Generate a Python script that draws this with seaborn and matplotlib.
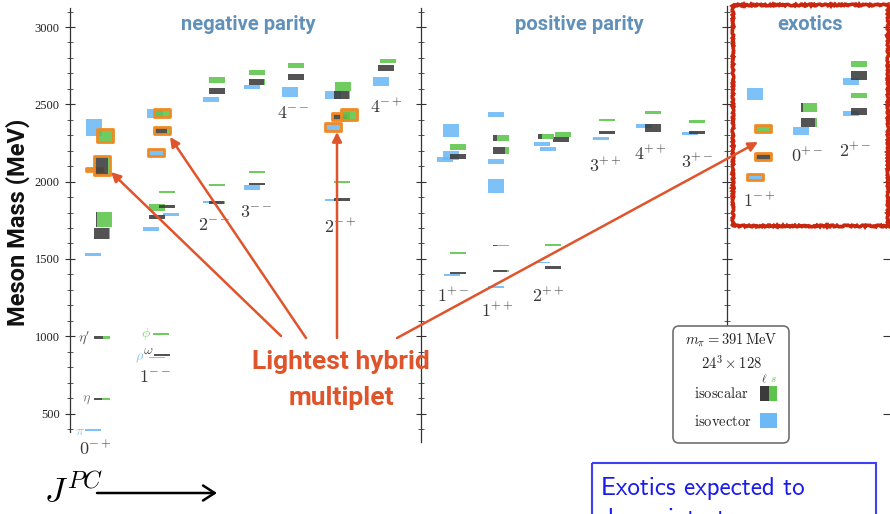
import matplotlib
matplotlib.use("Agg")
import matplotlib.pyplot as plt
import seaborn as sns
import pandas as pd
from matplotlib.patches import FancyBboxPatch, Rectangle
from matplotlib.ticker import MultipleLocator, NullFormatter

# ---------------------------------------------------------------- data
# J^PC columns and their horizontal placement (isoscalar slot centre)
columns = ["0-+", "1--", "2--", "3--", "4--", "2-+", "4-+",
           "1+-", "1++", "2++", "3++", "4++", "3+-",
           "1-+", "0+-", "2+-"]
col_pos = [102, 161, 217, 257, 296, 342, 386,
           458, 501, 552, 607, 652, 697,
           763, 809, 859]

# isovector states (MeV)
iv_col = ["0-+", "0-+", "0-+", "0-+",
          "1--", "1--", "1--", "1--", "1--",
          "2--", "2--", "3--", "3--", "4--",
          "2-+", "2-+", "2-+", "4-+",
          "1+-", "1+-", "1+-", "1+-",
          "1++", "1++", "1++", "1++",
          "2++", "2++", "2++",
          "3++", "4++", "3+-",
          "1-+", "1-+", "0+-", "2+-", "2+-"]
iv_mass = [393, 1528, 2078, 2350,
           863, 1693, 1787, 2188, 2440,
           1868, 2531, 1962, 2612, 2580,
           1881, 2353, 2560, 2647,
           1396, 2143, 2169, 2331,
           1318, 1972, 2130, 2434,
           1477, 2211, 2243,
           2279, 2360, 2311,
           2030, 2567, 2327, 2440, 2647]
iv_err = [6, 12, 10, 55,
          5, 13, 10, 23, 29,
          6, 16, 16, 13, 32,
          6, 23, 26, 29,
          5, 16, 29, 42,
          5, 45, 16, 16,
          5, 13, 13,
          10, 13, 10,
          19, 39, 26, 16, 23]
iv_hybrid = [0, 0, 1, 0,
             0, 0, 0, 1, 0,
             0, 0, 0, 0, 0,
             0, 1, 0, 0,
             0, 0, 0, 0,
             0, 0, 0, 0,
             0, 0, 0,
             0, 0, 0,
             1, 0, 0, 0, 0]
iv_shift = [-9, -9, -8.5, -8.5,
            -4.5, -10.5, 10, -5.5, -6,
            -6, -6, -5, -5, -6,
            -9, -9, -9.5, -5.5,
            -6, -13, -7, -7,
            -5.5, -5.5, -5.5, -5.5,
            -10.5, -4.5, -10.5,
            -6, -8, -7.5,
            -8, -8, -8, -8, -8]

# isoscalar states (MeV) with light-quark (ℓ) fraction; remainder is strange (s)
is_col = ["0-+", "0-+", "0-+", "0-+", "0-+", "0-+",
          "1--", "1--", "1--", "1--", "1--", "1--", "1--", "1--",
          "2--", "2--", "2--", "2--",
          "3--", "3--", "3--", "3--",
          "4--", "4--",
          "2-+", "2-+", "2-+", "2-+", "2-+", "2-+",
          "4-+", "4-+",
          "1+-", "1+-", "1+-", "1+-",
          "1++", "1++", "1++", "1++",
          "2++", "2++", "2++", "2++", "2++",
          "3++", "3++", "4++", "4++", "3+-", "3+-",
          "1-+", "1-+", "0+-", "0+-",
          "2+-", "2+-", "2+-", "2+-"]
is_mass = [594, 992, 1664, 1755, 2104, 2298,
           880, 1014, 1771, 1832, 1837, 1933, 2331, 2444,
           1865, 1978, 2586, 2657,
           1984, 2062, 2644, 2706,
           2677, 2751,
           1884, 1997, 2421, 2434, 2563, 2615,
           2735, 2780,
           1409, 1538, 2162, 2224,
           1422, 1587, 2201, 2282,
           1444, 1590, 2272, 2292, 2305,
           2318, 2398, 2347, 2447, 2318, 2389,
           2162, 2343, 2382, 2479,
           2453, 2557, 2686, 2761]
is_err = [6, 8, 36, 48, 61, 42,
          5, 5, 13, 23, 10, 6, 23, 26,
          9, 6, 19, 19,
          7, 6, 19, 16,
          19, 16,
          8, 6, 23, 35, 26, 29,
          19, 13,
          6, 5, 16, 19,
          6, 6, 23, 19,
          10, 5, 19, 16, 16,
          10, 8, 26, 10, 10, 10,
          23, 23, 29, 29,
          23, 16, 29, 19]
is_light = [0.5, 0.56, 0.95, 0.05, 0.88, 0.1,
            1.0, 0.0, 1.0, 0.0, 1.0, 0.0, 0.85, 0.12,
            0.95, 0.0, 1.0, 0.0,
            1.0, 0.0, 0.95, 0.0,
            1.0, 0.0,
            1.0, 0.0, 0.95, 0.0, 0.95, 0.0,
            1.0, 0.0,
            1.0, 0.0, 1.0, 0.0,
            0.85, 0.25, 0.75, 0.25,
            1.0, 0.0, 1.0, 0.3, 0.0,
            1.0, 0.0, 1.0, 0.0, 1.0, 0.0,
            0.95, 0.05, 0.85, 0.1,
            1.0, 0.0, 1.0, 0.0]
is_hybrid = [0, 0, 0, 0, 1, 1,
             0, 0, 0, 0, 0, 0, 1, 1,
             0, 0, 0, 0,
             0, 0, 0, 0,
             0, 0,
             0, 0, 1, 1, 0, 0,
             0, 0,
             0, 0, 0, 0,
             0, 0, 0, 0,
             0, 0, 0, 0, 0,
             0, 0, 0, 0, 0, 0,
             1, 1, 0, 0,
             0, 0, 0, 0]
is_shift = [0, 0, 0, 2, 0, 2.5,
            0.5, 0, -4.5, -4.5, 6, 5.5, 0.5, 0.5,
            0, 0, 0, 0,
            0, 0, 0, 0,
            0, 0,
            -0.5, -0.5, -2.5, 6.5, -0.5, 1,
            0, 2,
            0, 0, 0, 0,
            0, 0, 0, 0,
            0.5, 0.5, 9, -6.5, 11,
            0, 0, 0.5, 0.5, 0, 0,
            0, 0, 0, 0,
            0, 0, 0, 0]

# named ground states
named_text = [r"$\eta'$", r"$\eta$", r"$\pi$", r"$\phi$", r"$\omega$", r"$\rho$"]
named_xy = [(84, 338), (86, 399), (80, 431), (146, 334), (148, 350), (140, 358)]
named_color = ["#555555", "#7a7a7a", "#8ec5f0", "#86d27a", "#555555", "#8ec5f0"]

# position of the J^PC captions
jpc_xy = [(95, 450), (155, 377), (214, 225), (256, 212), (293, 113), (340, 228),
          (386, 108), (453, 297), (497, 312), (548, 297), (605, 167), (650, 155),
          (697, 163), (759, 202), (807, 157), (855, 152)]

# --------------------------------------------------------------- style
sns.set_theme(style="ticks")
plt.rcParams["font.family"] = ["DejaVu Sans"]
plt.rcParams["mathtext.fontset"] = "cm"

BLUE = "#6cb9f5"
GREEN = "#5cc44b"
DARK = "#3b3b3b"
ORANGE = "#f08a24"
RED = "#e0542c"
TITLE = "#6190b8"
HEAVY = ["Roboto", "DejaVu Sans"]
SERIF = ["Liberation Serif", "DejaVu Serif"]
CMSS = ["cmss10", "DejaVu Sans"]
BW = 16          # box width in px units
A = 0.88         # box opacity

W, H = 890, 514
PX = 0.1546      # pixels per MeV


def mass_at(ypx):
    return 3000 - (ypx - 27) / PX


fig = plt.figure(figsize=(W / 100, H / 100), dpi=100)
fig.patch.set_facecolor("white")


def vaxis(x_px, top_px, bot_px, zorder=0):
    a = fig.add_axes([x_px / W, 1 - bot_px / H, 1e-4, (bot_px - top_px) / H],
                     zorder=zorder)
    a.set_facecolor("none")
    a.set_ylim(mass_at(bot_px), mass_at(top_px))
    a.set_xticks([])
    for s in ("top", "right", "bottom"):
        a.spines[s].set_visible(False)
    a.spines["left"].set_color("#333333")
    a.spines["left"].set_linewidth(0.9)
    a.yaxis.set_major_locator(MultipleLocator(500))
    a.yaxis.set_minor_locator(MultipleLocator(100))
    a.tick_params(axis="y", which="major", direction="inout", length=7,
                  width=0.8, color="#333333")
    a.tick_params(axis="y", which="minor", direction="inout", length=4,
                  width=0.7, color="#555555")
    return a


# parity separators
for xs, top, bot in [(421, 8, 442), (727, 6, 330)]:
    s = vaxis(xs, top, bot)
    s.yaxis.set_major_formatter(NullFormatter())

# right-edge major ticks
r = vaxis(888, 8, 432)
r.spines["left"].set_visible(False)
r.yaxis.set_major_formatter(NullFormatter())
r.tick_params(axis="y", which="minor", length=0)

# main axes, x in px units, y in MeV
ax = fig.add_axes([70 / W, 1 - 432 / H, 820 / W, 424 / H], zorder=1)
ax.set_facecolor("none")
ax.set_xlim(70, 890)
ax.set_ylim(mass_at(432), mass_at(8))
sns.despine(ax=ax, top=True, right=True, bottom=True)
ax.set_xticks([])
ax.spines["left"].set_color("#333333")
ax.spines["left"].set_linewidth(0.9)
ax.yaxis.set_major_locator(MultipleLocator(500))
ax.yaxis.set_minor_locator(MultipleLocator(100))
ax.set_yticks(range(500, 3001, 500))
ax.tick_params(axis="y", which="major", direction="inout", length=7, width=0.8,
               color="#333333", pad=4, labelsize=9)
ax.tick_params(axis="y", which="minor", direction="inout", length=4, width=0.7,
               color="#555555")
for t in ax.get_yticklabels():
    t.set_family(SERIF)
    t.set_color("#222222")
ax.grid(False)

pos = dict(zip(columns, col_pos))
iv = pd.DataFrame(dict(col=iv_col, mass=iv_mass, err=iv_err,
                       hybrid=iv_hybrid, shift=iv_shift))
iv["x"] = iv["col"].map(pos) + iv["shift"]
isc = pd.DataFrame(dict(col=is_col, mass=is_mass, err=is_err, light=is_light,
                        hybrid=is_hybrid, shift=is_shift))
isc["x"] = isc["col"].map(pos) + isc["shift"]


def border(x, m, e):
    ax.bar(x - BW / 2, 2 * e, width=BW, bottom=m - e, align="edge",
           fill=False, edgecolor=ORANGE, linewidth=2.0, joinstyle="round",
           zorder=3)


for row in iv.itertuples():
    ax.bar(row.x - BW / 2, 2 * row.err, width=BW, bottom=row.mass - row.err,
           align="edge", color=BLUE, alpha=A, linewidth=0, zorder=2)
    if row.hybrid:
        border(row.x, row.mass, row.err)

for row in isc.itertuples():
    left = row.x - BW / 2
    if row.light > 0:
        ax.bar(left, 2 * row.err, width=BW * row.light,
               bottom=row.mass - row.err, align="edge", color=DARK, alpha=A,
               linewidth=0, zorder=3)
    if row.light < 1:
        ax.bar(left + BW * row.light, 2 * row.err, width=BW * (1 - row.light),
               bottom=row.mass - row.err, align="edge", color=GREEN, alpha=A,
               linewidth=0, zorder=3)
    if row.hybrid:
        border(row.x, row.mass, row.err)

# ------------------------------------------------------------ overlay
ov = fig.add_axes([0, 0, 1, 1], zorder=5)
ov.set_facecolor("none")
ov.set_xlim(0, W)
ov.set_ylim(H, 0)
ov.axis("off")

ov.text(18, 222, "Meson Mass (MeV)", rotation=90, ha="center", va="center",
        fontsize=17, fontweight="bold", family=HEAVY, color="#111111")

for txt, xc in [("negative parity", 248), ("positive parity", 579),
                ("exotics", 810)]:
    ov.text(xc, 24, txt, ha="center", va="center", fontsize=14.5,
            fontweight="bold", family=HEAVY, color=TITLE)

for c, (x, y) in zip(columns, jpc_xy):
    ov.text(x, y, f"${c[0]}^{{{c[1:]}}}$", ha="center", va="center",
            fontsize=13, color="#3a3a3a")

for txt, (x, y), c in zip(named_text, named_xy, named_color):
    ov.text(x, y, txt, ha="center", va="center", fontsize=10, color=c)

# hybrid multiplet callout
ov.text(341, 362, "Lightest hybrid", ha="center", va="center", fontsize=19,
        fontweight="bold", family=HEAVY, color=RED)
ov.text(341, 398, "multiplet", ha="center", va="center", fontsize=19,
        fontweight="bold", family=HEAVY, color=RED)
for start, tip in [((281, 336), (111, 172)), ((306, 338), (170, 137)),
                   ((337, 338), (337, 132)), ((397, 338), (758, 142))]:
    ov.annotate("", xy=tip, xytext=start,
                arrowprops=dict(arrowstyle="-|>", color=RED, lw=1.8,
                                mutation_scale=14, shrinkA=0, shrinkB=0))

# exotics frame
frame = Rectangle((733, 5), 155, 221, fill=False, edgecolor="#c8260e",
                  linewidth=2.6)
frame.set_sketch_params(scale=0.8, length=3, randomness=6)
ov.add_patch(frame)

# legend
ov.add_patch(FancyBboxPatch((673, 326), 116, 117,
                            boxstyle="round,pad=0,rounding_size=6",
                            facecolor="white", edgecolor="#707070",
                            linewidth=1.2, zorder=6))
ov.text(731, 341, r"$m_\pi = 391\,\mathrm{MeV}$", ha="center", va="center",
        fontsize=10.5, color="#222222", zorder=7)
ov.text(731, 363, r"$24^3 \times 128$", ha="center", va="center",
        fontsize=10.5, color="#222222", zorder=7)
ov.text(694, 394, r"$\mathrm{isoscalar}$", ha="left", va="center",
        fontsize=10.5, color="#222222", zorder=7)
ov.text(694, 421, r"$\mathrm{isovector}$", ha="left", va="center",
        fontsize=10.5, color="#222222", zorder=7)
ov.text(764, 379, r"$\ell$", ha="center", va="center", fontsize=8,
        color=DARK, zorder=7)
ov.text(773, 379, r"$s$", ha="center", va="center", fontsize=8,
        color=GREEN, zorder=7)
ov.add_patch(Rectangle((760, 386), 8.5, 15, facecolor=DARK, lw=0, zorder=7))
ov.add_patch(Rectangle((768.5, 386), 8.5, 15, facecolor=GREEN, lw=0, zorder=7))
ov.add_patch(Rectangle((760, 413), 17, 15, facecolor=BLUE, lw=0, zorder=7))

# J^PC axis caption
ov.text(44, 492, r"$J^{PC}$", ha="left", va="center", fontsize=25,
        color="black")
ov.annotate("", xy=(217, 493), xytext=(97, 493),
            arrowprops=dict(arrowstyle="->,head_length=0.7,head_width=0.45",
                            lw=1.8, color="black", shrinkA=0, shrinkB=0))

# note box; its second line runs past the lower edge of the figure
ov.add_patch(Rectangle((592, 463), 284, 70, fill=False, edgecolor="#3f3ff5",
                       linewidth=1.5, clip_on=False))
ov.text(601, 495, "Exotics expected to", ha="left", va="baseline",
        fontsize=18, family=CMSS, color="#1a1aef")
ov.text(601, 526, "decay into two mesons", ha="left", va="baseline",
        fontsize=18, family=CMSS, color="#1a1aef")

fig.savefig("out.png", dpi=100, facecolor="white")
